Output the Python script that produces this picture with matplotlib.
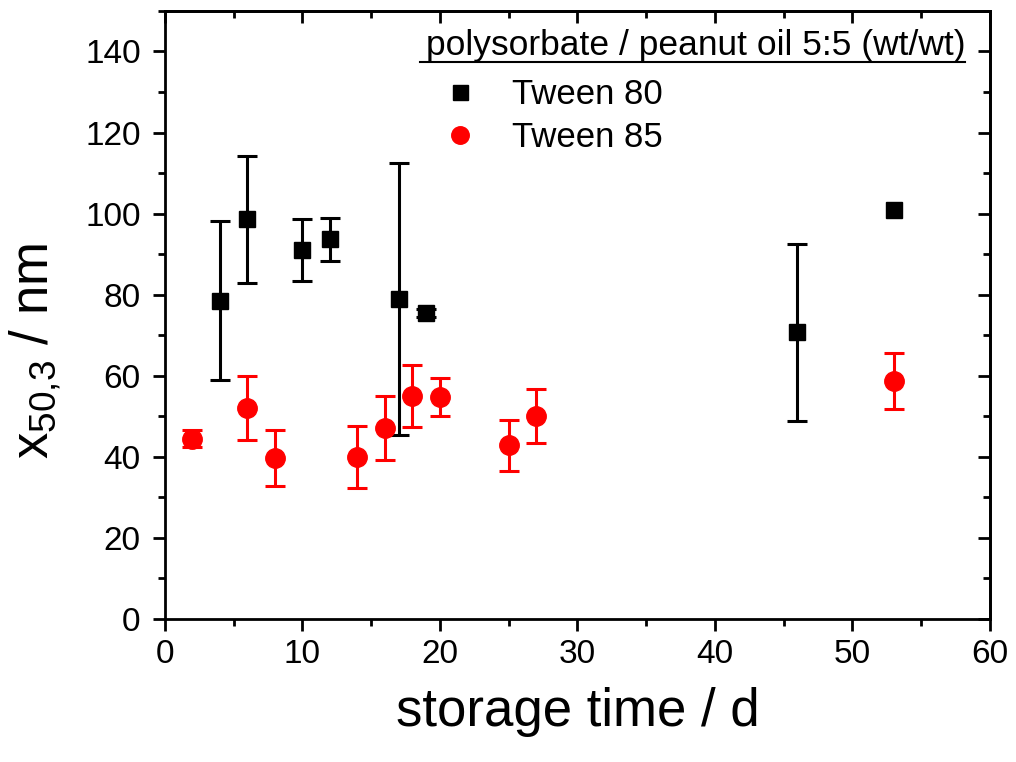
import matplotlib.pyplot as plt
from matplotlib.ticker import MultipleLocator

plt.rcParams['font.family'] = ['Liberation Sans', 'DejaVu Sans']
plt.rcParams['mathtext.fontset'] = 'custom'
plt.rcParams['mathtext.rm'] = 'Liberation Sans'
plt.rcParams['mathtext.it'] = 'Liberation Sans'

# Tween 80 data
t80_days = [4, 6, 10, 12, 17, 19, 46, 53]
t80_x50 = [78.5, 98.6, 91.0, 93.7, 79.0, 75.5, 70.7, 101.0]
t80_err = [19.6, 15.6, 7.6, 5.3, 33.6, 1.0, 21.8, float('nan')]

# Tween 85 data
t85_days = [2, 6, 8, 14, 16, 18, 20, 25, 27, 53]
t85_x50 = [44.5, 52.1, 39.6, 39.9, 47.0, 55.0, 54.8, 42.8, 50.1, 58.7]
t85_err = [2.2, 7.9, 6.9, 7.7, 7.9, 7.7, 4.7, 6.3, 6.6, 7.0]

fig = plt.figure(figsize=(10.16, 7.62), dpi=100)
ax = fig.add_axes([0.1624, 0.1877, 0.812, 0.798])

ax.errorbar(t80_days, t80_x50, yerr=t80_err, fmt='s', color='black', ms=12,
            elinewidth=2.2, capsize=7.5, capthick=2.2, label='Tween 80')
ax.errorbar(t85_days, t85_x50, yerr=t85_err, fmt='o', color='red', ms=14,
            elinewidth=2.2, capsize=7.5, capthick=2.2, label='Tween 85')

ax.set_xlim(0, 60)
ax.set_ylim(0, 150)
ax.xaxis.set_major_locator(MultipleLocator(10))
ax.xaxis.set_minor_locator(MultipleLocator(5))
ax.yaxis.set_major_locator(MultipleLocator(20))
ax.yaxis.set_minor_locator(MultipleLocator(10))
ax.set_yticks(range(0, 141, 20))

for s in ax.spines.values():
    s.set_linewidth(2)

ax.tick_params(which='major', direction='out', length=8.5, width=2, labelsize=24)
ax.tick_params(which='minor', direction='out', length=5, width=2)
ax.tick_params(axis='x', pad=6)
ax.tick_params(axis='y', pad=9)

# mirrored inward ticks on top and right
ax_top = ax.secondary_xaxis('top')
ax_top.xaxis.set_major_locator(MultipleLocator(10))
ax_top.xaxis.set_minor_locator(MultipleLocator(5))
ax_top.tick_params(which='major', direction='in', length=8.5, width=2, labeltop=False)
ax_top.tick_params(which='minor', direction='in', length=5, width=2)
ax_top.spines['top'].set_linewidth(2)
ax_right = ax.secondary_yaxis('right')
ax_right.yaxis.set_major_locator(MultipleLocator(20))
ax_right.yaxis.set_minor_locator(MultipleLocator(10))
ax_right.tick_params(which='major', direction='in', length=8.5, width=2, labelright=False)
ax_right.tick_params(which='minor', direction='in', length=5, width=2)
ax_right.spines['right'].set_linewidth(2)

ax.set_xlabel('storage time / d', fontsize=38, labelpad=12)
ax.set_ylabel(r'x$_{\mathregular{50{,}3}}$ / nm', fontsize=38)
ax.yaxis.set_label_coords(-0.124, 0.44)

# legend
handles, labels = ax.get_legend_handles_labels()
handles = [h[0] for h in handles]
leg = ax.legend(handles, labels, loc='upper left', bbox_to_anchor=(0.337, 0.89),
                frameon=False, fontsize=25, handlelength=1.0, handletextpad=1.0,
                labelspacing=0.3, borderpad=0, borderaxespad=0, markerscale=0.9)
ax.text(0.970, 0.943, 'polysorbate / peanut oil 5:5 (wt/wt)', transform=ax.transAxes,
        ha='right', va='center', fontsize=25.5)
ax.plot([0.309, 0.970], [0.916, 0.916], transform=ax.transAxes, color='black', lw=1.5,
        clip_on=False)

fig.savefig('out.png', dpi=100)
